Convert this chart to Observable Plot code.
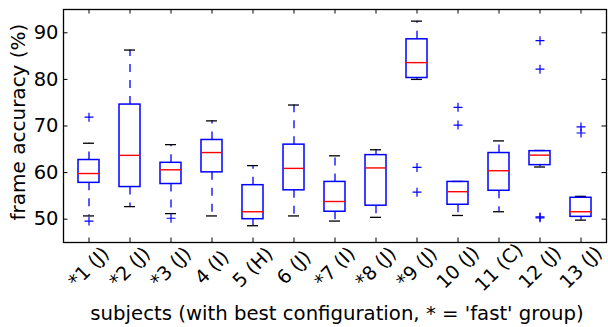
<!DOCTYPE html>
<html>
<head>
<meta charset="utf-8">
<script src="https://cdn.jsdelivr.net/npm/d3@7"></script>
<script src="https://cdn.jsdelivr.net/npm/@observablehq/plot@0.6"></script>
<style>
  html, body { margin: 0; padding: 0; background: #fff; }
</style>
</head>
<body>
<div id="chart"></div>
<script>
const subjects = ["*1 (J)", "*2 (J)", "*3 (J)", "4 (I)", "5 (H)", "6 (J)", "*7 (I)", "*8 (J)", "*9 (J)", "10 (J)", "11 (C)", "12 (J)", "13 (J)"];
const q1 =          [57.8, 56.9, 57.55, 60.05, 50.0, 56.2, 51.6, 52.9, 80.3, 53.1, 56.1, 61.6, 50.5];
const q3 =          [62.7, 74.6, 62.1, 67.0, 57.3, 66.0, 58.0, 63.75, 88.6, 58.0, 64.2, 64.6, 54.6];
const medians =     [59.8, 63.7, 60.6, 64.3, 51.6, 60.9, 53.8, 61.0, 83.6, 55.9, 60.4, 63.75, 51.6];
const whiskerLow =  [50.7, 52.7, 51.2, 50.7, 48.6, 50.7, 49.6, 50.4, 80.0, 50.8, 51.6, 61.2, 49.8];
const whiskerHigh = [66.3, 86.3, 66.0, 71.1, 61.5, 74.5, 63.6, 64.9, 92.5, 58.1, 66.8, 64.75, 54.9];
const outlierSubject = ["*1 (J)", "*1 (J)", "*3 (J)", "*9 (J)", "*9 (J)", "10 (J)", "10 (J)", "12 (J)", "12 (J)", "12 (J)", "12 (J)", "13 (J)", "13 (J)"];
const outlierValue =   [71.9, 49.6, 50.2, 61.1, 55.8, 74.0, 70.2, 88.3, 82.2, 50.5, 50.3, 69.8, 68.5];
const yTicks = [50, 60, 70, 80, 90];
const yLabel = "frame accuracy (%)";
const xLabel = "subjects (with best configuration, * = 'fast' group)";

const boxes = subjects.map((s, i) => ({s, q1: q1[i], q3: q3[i], med: medians[i], lo: whiskerLow[i], hi: whiskerHigh[i]}));
const outliers = outlierSubject.map((s, i) => ({s, v: outlierValue[i]}));

const W = 608, H = 327, mL = 63, mR = 2, mT = 9, mB = 85;
const innerW = W - mL - mR, innerH = H - mT - mB;
const tick = 4.5;

const chart = Plot.plot({
  width: W, height: H,
  marginLeft: mL, marginRight: mR, marginTop: mT, marginBottom: mB,
  style: {fontFamily: "'DejaVu Sans', sans-serif", fontSize: "19px", background: "#fff", color: "#000"},
  x: {type: "band", domain: subjects, paddingInner: 0.5, paddingOuter: 0.25, axis: null},
  y: {domain: [45, 95], axis: null},
  marks: [
    // whiskers
    Plot.ruleX(boxes, {x: "s", y1: "q3", y2: "hi", stroke: "#0000ff", strokeWidth: 1.3, strokeDasharray: "8,8"}),
    Plot.ruleX(boxes, {x: "s", y1: "q1", y2: "lo", stroke: "#0000ff", strokeWidth: 1.3, strokeDasharray: "8,8"}),
    // caps
    Plot.tickY(boxes, {x: "s", y: "hi", stroke: "#000", strokeWidth: 1.3, insetLeft: 5, insetRight: 5}),
    Plot.tickY(boxes, {x: "s", y: "lo", stroke: "#000", strokeWidth: 1.3, insetLeft: 5, insetRight: 5}),
    // boxes
    Plot.barY(boxes, {x: "s", y1: "q1", y2: "q3", fill: "none", stroke: "#0000ff", strokeWidth: 1.5}),
    // medians
    Plot.tickY(boxes, {x: "s", y: "med", stroke: "#ff0000", strokeWidth: 1.4}),
    // outliers
    Plot.dot(outliers, {x: "s", y: "v", symbol: "plus", r: 3, stroke: "#0000ff", strokeWidth: 1.2}),
    // inward ticks
    Plot.tickY(yTicks, {y: d => d, stroke: "#000", insetRight: innerW - tick}),
    Plot.tickY(yTicks, {y: d => d, stroke: "#000", insetLeft: innerW - tick}),
    Plot.tickX(subjects, {x: d => d, stroke: "#000", insetBottom: innerH - tick}),
    Plot.tickX(subjects, {x: d => d, stroke: "#000", insetTop: innerH - tick}),
    // y tick labels
    Plot.text(yTicks, {y: d => d, text: d => String(d), frameAnchor: "left", textAnchor: "end", dx: -5, fontSize: 19.5}),
    // x tick labels
    Plot.text(subjects, {x: d => d, text: d => d, frameAnchor: "bottom", rotate: -45, textAnchor: "middle", lineAnchor: "middle", dy: 25, fontSize: 19}),
    // axis titles
    Plot.text([yLabel], {text: d => d, frameAnchor: "left", rotate: -90, textAnchor: "middle", lineAnchor: "middle", dx: -45, dy: -4, fontSize: 20}),
    Plot.text([xLabel], {text: d => d, frameAnchor: "bottom", textAnchor: "middle", lineAnchor: "middle", dy: 71, dx: 2, fontSize: 19.7}),
    Plot.frame({stroke: "#000", strokeWidth: 1.3})
  ]
});
document.getElementById("chart").appendChild(chart);
</script>
</body>
</html>
